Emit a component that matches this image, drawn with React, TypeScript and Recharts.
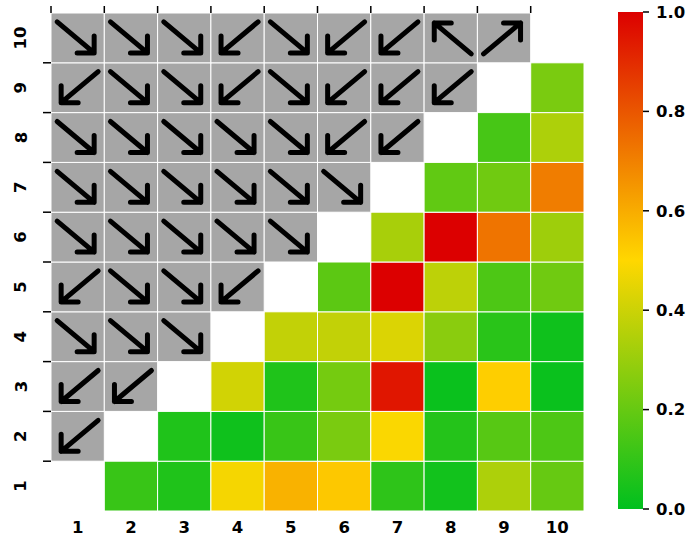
import { ScatterChart, Scatter, XAxis, YAxis, BarChart, Bar, ReferenceLine } from 'recharts';

// axis labels 1..10, same on both axes
const LABELS = [1, 2, 3, 4, 5, 6, 7, 8, 9, 10];
// short marks along the top edge sit on the left border of each column
const TOP_TICKS = [0.5, 1.5, 2.5, 3.5, 4.5, 5.5, 6.5, 7.5, 8.5, 9.5];
const CBAR_TICKS = [0, 0.2, 0.4, 0.6, 0.8, 1.0];

// lower-right triangle values (x > y), one row per y, index = x - 1
const valueRows: (number | null)[][] = [
  [null, 0.11, 0.06, 0.48, 0.585, 0.535, 0.09, 0.035, 0.34, 0.2],
  [null, null, 0.06, 0.03, 0.11, 0.24, 0.49, 0.07, 0.17, 0.15],
  [null, null, null, 0.41, 0.06, 0.23, 0.95, 0.02, 0.52, 0.02],
  [null, null, null, null, 0.38, 0.38, 0.43, 0.27, 0.08, 0.03],
  [null, null, null, null, null, 0.18, 1.0, 0.37, 0.15, 0.22],
  [null, null, null, null, null, null, 0.33, 1.0, 0.73, 0.31],
  [null, null, null, null, null, null, null, 0.19, 0.22, 0.71],
  [null, null, null, null, null, null, null, null, 0.14, 0.34],
  [null, null, null, null, null, null, null, null, null, 0.24],
  [null, null, null, null, null, null, null, null, null, null],
];

// upper-left triangle arrow directions (x < y), one row per y
const arrowRows: string[][] = [
  [],
  ['SW'],
  ['SW', 'SW'],
  ['SE', 'SE', 'SE'],
  ['SW', 'SE', 'SE', 'SW'],
  ['SE', 'SE', 'SE', 'SE', 'SE'],
  ['SE', 'SE', 'SE', 'SE', 'SE', 'SE'],
  ['SE', 'SE', 'SE', 'SE', 'SE', 'SW', 'SW'],
  ['SW', 'SE', 'SE', 'SW', 'SE', 'SW', 'SW', 'SW'],
  ['SE', 'SE', 'SE', 'SW', 'SE', 'SW', 'SW', 'NW', 'NE'],
];

const CHART_W = 610;
const CHART_H = 543;
const MARGIN = { top: 13, right: 26, bottom: 0, left: 0 };
const Y_AXIS_W = 51;
const X_AXIS_H = 32;
const CELL_W = (CHART_W - MARGIN.left - MARGIN.right - Y_AXIS_W) / 10;
const CELL_H = (CHART_H - MARGIN.top - MARGIN.bottom - X_AXIS_H) / 10;
const TOP_TICK_LEN = 7 / CELL_H; // in data units
const FONT = '"DejaVu Sans", sans-serif';

const GREEN = [0, 192, 30];
const YELLOW = [255, 215, 0];
const RED = [220, 0, 0];

function colorFor(v: number): string {
  const [a, b, t] = v <= 0.5 ? [GREEN, YELLOW, v / 0.5] : [YELLOW, RED, (v - 0.5) / 0.5];
  const c = a.map((ch, i) => Math.round(ch + (b[i] - ch) * t));
  return `rgb(${c[0]},${c[1]},${c[2]})`;
}

const heatData = valueRows.flatMap((row, yi) =>
  row.map((v, xi) => ({ x: xi + 1, y: yi + 1, v })).filter((d) => d.v !== null),
);
const arrowData = arrowRows.flatMap((row, yi) =>
  row.map((dir, xi) => ({ x: xi + 1, y: yi + 1, dir })),
);

const DIRS: Record<string, [number, number]> = {
  SE: [1, 1],
  SW: [-1, 1],
  NE: [1, -1],
  NW: [-1, -1],
};

function HeatCell(props: any) {
  const { cx, cy, payload } = props;
  return (
    <rect
      x={cx - CELL_W / 2}
      y={cy - CELL_H / 2}
      width={CELL_W}
      height={CELL_H}
      fill={colorFor(payload.v)}
      stroke="#fff"
      strokeWidth={1}
    />
  );
}

function ArrowCell(props: any) {
  const { cx, cy, payload } = props;
  const [sx, sy] = DIRS[payload.dir];
  const tipX = cx + sx * 16.5;
  const tipY = cy + sy * 15;
  const tailX = cx - sx * 20.5;
  const tailY = cy - sy * 16;
  return (
    <g>
      <rect
        x={cx - CELL_W / 2}
        y={cy - CELL_H / 2}
        width={CELL_W}
        height={CELL_H}
        fill="#a6a6a6"
        stroke="#fff"
        strokeWidth={1}
      />
      <path
        d={`M${tailX},${tailY}L${tipX},${tipY}M${tipX - sx * 17},${tipY}L${tipX},${tipY}L${tipX},${tipY - sy * 17}`}
        stroke="#000"
        strokeWidth={5}
        strokeLinecap="round"
        strokeLinejoin="round"
        fill="none"
      />
    </g>
  );
}

// left labels are rotated; the tick marks sit on the row boundaries
function LeftTick(props: any) {
  const { x, y, payload } = props;
  return (
    <g>
      <text
        x={x - 22}
        y={y}
        transform={`rotate(-90, ${x - 22}, ${y})`}
        textAnchor="middle"
        dominantBaseline="central"
        fontFamily={FONT}
        fontWeight="bold"
        fontSize={16.5}
        fill="#000"
      >
        {payload.value}
      </text>
      {payload.value >= 2 && (
        <line x1={x} x2={x + 8} y1={y + CELL_H / 2} y2={y + CELL_H / 2} stroke="#000" strokeWidth={1.5} />
      )}
    </g>
  );
}

const tickFont = { fontFamily: FONT, fontWeight: 'bold', fontSize: 16.5, fill: '#000' };

export default function App() {
  return (
    <div style={{ position: 'absolute', left: 0, top: 0, width: 687, height: 543, background: '#fff' }}>
      <div style={{ position: 'absolute', left: 0, top: 0 }}>
        <ScatterChart width={CHART_W} height={CHART_H} margin={MARGIN}>
          <XAxis
            type="number"
            dataKey="x"
            domain={[0.5, 10.5]}
            ticks={LABELS}
            height={X_AXIS_H}
            axisLine={false}
            tickLine={false}
            tickMargin={4}
            tick={tickFont}
            interval={0}
            allowDataOverflow
          />
          <YAxis
            type="number"
            dataKey="y"
            domain={[0.5, 10.5]}
            ticks={LABELS}
            width={Y_AXIS_W}
            axisLine={false}
            tickLine={false}
            tick={<LeftTick />}
            interval={0}
            allowDataOverflow
          />
          <Scatter data={heatData} shape={<HeatCell />} isAnimationActive={false} />
          <Scatter data={arrowData} shape={<ArrowCell />} isAnimationActive={false} />
          {TOP_TICKS.map((t) => (
            <ReferenceLine
              key={t}
              segment={[
                { x: t, y: 10.5 },
                { x: t, y: 10.5 + TOP_TICK_LEN },
              ]}
              ifOverflow="visible"
              stroke="#000"
              strokeWidth={1.5}
            />
          ))}
        </ScatterChart>
      </div>
      <div style={{ position: 'absolute', left: 600, top: 0 }}>
        <BarChart
          width={87}
          height={CHART_H}
          data={[{ name: 'scale', v: 1 }]}
          margin={{ top: 12, right: 0, bottom: 34, left: 18 }}
          barCategoryGap={0}
        >
          <defs>
            <linearGradient id="cbar" x1="0" y1="0" x2="0" y2="1">
              <stop offset="0%" stopColor="rgb(220,0,0)" />
              <stop offset="50%" stopColor="rgb(255,215,0)" />
              <stop offset="100%" stopColor="rgb(0,192,30)" />
            </linearGradient>
          </defs>
          <XAxis dataKey="name" hide />
          <YAxis
            orientation="right"
            domain={[0, 1]}
            ticks={CBAR_TICKS}
            width={44}
            axisLine={false}
            tickSize={6}
            tickMargin={7}
            tickLine={{ stroke: '#000', strokeWidth: 1.5 }}
            tickFormatter={(v: number) => v.toFixed(1)}
            tick={{ ...tickFont, textAnchor: 'start' }}
            interval={0}
          />
          <Bar dataKey="v" fill="url(#cbar)" isAnimationActive={false} />
        </BarChart>
      </div>
    </div>
  );
}
